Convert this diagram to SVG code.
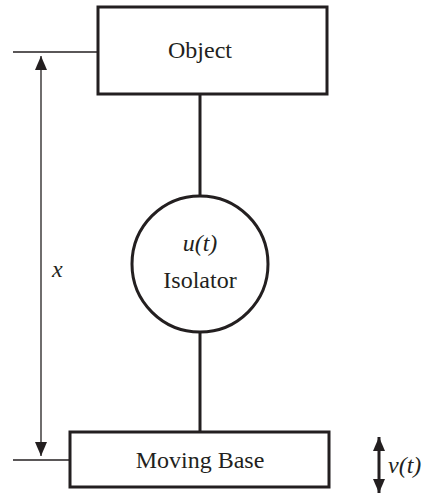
<svg xmlns="http://www.w3.org/2000/svg" width="425" height="494" viewBox="0 0 425 494">
<style>
.box{fill:#fff;stroke:#231f20;stroke-width:3}
.thick{stroke:#231f20;stroke-width:3;fill:none}
.thin{stroke:#231f20;stroke-width:1.3;fill:none}
text{font-family:"Liberation Serif","Times New Roman",serif;font-size:24px;fill:#231f20}
.it{font-style:italic}
</style>
<defs>
<marker id="ah2" viewBox="0 0 14 12" refX="14" refY="6" markerWidth="14" markerHeight="12" markerUnits="userSpaceOnUse" orient="auto-start-reverse">
<path d="M0,0 L14,6 L0,12 Z" fill="#231f20"/>
</marker>
</defs>
<g id="connectors">
<line class="thick" x1="200" y1="94" x2="200" y2="196"/>
<line class="thick" x1="200" y1="332" x2="200" y2="432"/>
<line class="thin" x1="13" y1="52" x2="98" y2="52"/>
<line class="thin" x1="13" y1="460" x2="70" y2="460"/>
<line class="thin" x1="41" y1="56" x2="41" y2="456" marker-start="url(#ah2)" marker-end="url(#ah2)"/>
<line class="thick" x1="379" y1="437" x2="379" y2="493" stroke-width="2" marker-start="url(#ah2)" marker-end="url(#ah2)"/>
<text class="it" x="52" y="277">x</text>
<text class="it" x="388" y="473">v(t)</text>
</g>
<g id="object">
<rect class="box" x="98" y="7" width="229" height="87"/>
<text x="200" y="58" text-anchor="middle">Object</text>
</g>
<g id="isolator">
<circle class="box" cx="200" cy="264" r="68"/>
<text class="it" x="200" y="251" text-anchor="middle">u(t)</text>
<text x="200" y="288" text-anchor="middle">Isolator</text>
</g>
<g id="base">
<rect class="box" x="70" y="432" width="259" height="55"/>
<text x="200" y="468" text-anchor="middle">Moving Base</text>
</g>
</svg>
